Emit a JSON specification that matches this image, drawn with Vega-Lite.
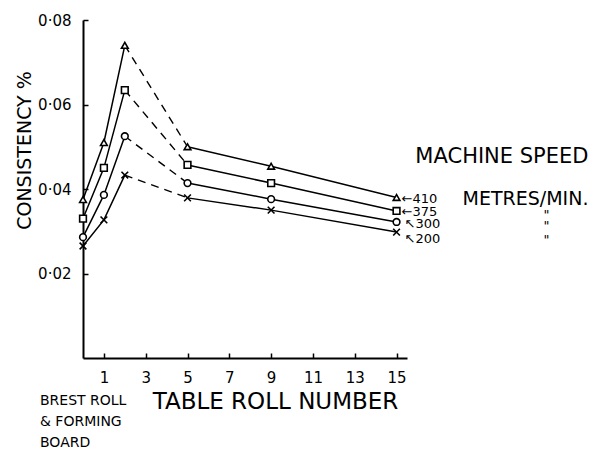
{
  "$schema": "https://vega.github.io/schema/vega-lite/v6.json",
  "width": 324,
  "height": 338,
  "autosize": {"type": "none"},
  "padding": {"left": 83, "top": 20, "right": 209, "bottom": 92},
  "background": "white",
  "config": {
    "view": {"stroke": null},
    "font": "DejaVu Sans",
    "text": {"font": "DejaVu Sans", "color": "black"}
  },
  "data": {
    "values": [
      {"roll": 0, "speed": "410", "consistency": 0.0375},
      {"roll": 1, "speed": "410", "consistency": 0.051},
      {"roll": 2, "speed": "410", "consistency": 0.074},
      {"roll": 5, "speed": "410", "consistency": 0.050},
      {"roll": 9, "speed": "410", "consistency": 0.0454},
      {"roll": 15, "speed": "410", "consistency": 0.038},
      {"roll": 0, "speed": "375", "consistency": 0.033},
      {"roll": 1, "speed": "375", "consistency": 0.045},
      {"roll": 2, "speed": "375", "consistency": 0.0634},
      {"roll": 5, "speed": "375", "consistency": 0.0457},
      {"roll": 9, "speed": "375", "consistency": 0.0414},
      {"roll": 15, "speed": "375", "consistency": 0.0348},
      {"roll": 0, "speed": "300", "consistency": 0.0286},
      {"roll": 1, "speed": "300", "consistency": 0.0386},
      {"roll": 2, "speed": "300", "consistency": 0.0525},
      {"roll": 5, "speed": "300", "consistency": 0.0414},
      {"roll": 9, "speed": "300", "consistency": 0.0376},
      {"roll": 15, "speed": "300", "consistency": 0.0322},
      {"roll": 0, "speed": "200", "consistency": 0.0265},
      {"roll": 1, "speed": "200", "consistency": 0.0327},
      {"roll": 2, "speed": "200", "consistency": 0.0433},
      {"roll": 5, "speed": "200", "consistency": 0.0379},
      {"roll": 9, "speed": "200", "consistency": 0.035},
      {"roll": 15, "speed": "200", "consistency": 0.0298}
    ]
  },
  "encoding": {
    "x": {
      "field": "roll",
      "type": "quantitative",
      "scale": {"domain": [0, 15.5], "nice": false, "zero": false},
      "axis": {
        "values": [1, 3, 5, 7, 9, 11, 13, 15],
        "grid": false,
        "domainColor": "black",
        "domainWidth": 2,
        "tickColor": "black",
        "tickSize": -5,
        "tickWidth": 1.5,
        "labelPadding": 17,
        "labelFontSize": 15,
        "labelColor": "black",
        "labelFont": "DejaVu Sans",
        "title": "TABLE ROLL NUMBER",
        "titleFont": "DejaVu Sans",
        "titleFontSize": 23,
        "titleFontWeight": "normal",
        "titleColor": "black",
        "titleX": 192,
        "titleY": 43,
        "titleAlign": "center",
        "titleBaseline": "middle"
      }
    },
    "y": {
      "field": "consistency",
      "type": "quantitative",
      "scale": {"domain": [0, 0.08], "nice": false},
      "axis": {
        "values": [0.02, 0.04, 0.06, 0.08],
        "labelExpr": "replace(format(datum.value, '.2f'), '.', '·')",
        "grid": false,
        "domainColor": "black",
        "domainWidth": 2,
        "tickColor": "black",
        "tickSize": -5,
        "tickWidth": 1.5,
        "labelPadding": 17,
        "labelFontSize": 15,
        "labelColor": "black",
        "labelFont": "DejaVu Sans",
        "title": "CONSISTENCY %",
        "titleFont": "DejaVu Sans",
        "titleFontSize": 19,
        "titleFontWeight": "normal",
        "titleColor": "black",
        "titleX": -59,
        "titleY": 130,
        "titleAlign": "center",
        "titleBaseline": "middle"
      }
    }
  },
  "layer": [
    {
      "transform": [{"filter": "datum.roll <= 2"}],
      "mark": {"type": "line", "color": "black", "strokeWidth": 1.5},
      "encoding": {"detail": {"field": "speed"}}
    },
    {
      "transform": [{"filter": "datum.roll >= 2 && datum.roll <= 5"}],
      "mark": {"type": "line", "color": "black", "strokeWidth": 1.4, "strokeDash": [8, 6]},
      "encoding": {"detail": {"field": "speed"}}
    },
    {
      "transform": [{"filter": "datum.roll >= 5"}],
      "mark": {"type": "line", "color": "black", "strokeWidth": 1.5},
      "encoding": {"detail": {"field": "speed"}}
    },
    {
      "mark": {"type": "point", "filled": false, "color": "black", "size": 45, "strokeWidth": 1.6, "opacity": 1, "fill": "white", "fillOpacity": 1},
      "encoding": {
        "shape": {
          "field": "speed",
          "type": "nominal",
          "scale": {"domain": ["410", "375", "300", "200"], "range": ["triangle-up", "square", "circle", "M-1,-1L1,1M-1,1L1,-1"]},
          "legend": null
        }
      }
    },
    {
      "transform": [{"filter": "datum.roll == 15 && datum.speed == '410'"}],
      "mark": {"type": "text", "align": "left", "baseline": "middle", "dx": 5, "dy": 2, "fontSize": 13},
      "encoding": {"text": {"value": "←410"}}
    },
    {
      "transform": [{"filter": "datum.roll == 15 && datum.speed == '375'"}],
      "mark": {"type": "text", "align": "left", "baseline": "middle", "dx": 5, "dy": 1, "fontSize": 13},
      "encoding": {"text": {"value": "←375"}}
    },
    {
      "transform": [{"filter": "datum.roll == 15 && datum.speed == '300'"}],
      "mark": {"type": "text", "align": "left", "baseline": "middle", "dx": 8, "dy": 2, "fontSize": 13},
      "encoding": {"text": {"value": "↖300"}}
    },
    {
      "transform": [{"filter": "datum.roll == 15 && datum.speed == '200'"}],
      "mark": {"type": "text", "align": "left", "baseline": "middle", "dx": 8, "dy": 7, "fontSize": 13},
      "encoding": {"text": {"value": "↖200"}}
    },
    {
      "transform": [{"filter": "datum.roll == 15 && datum.speed == '410'"}],
      "mark": {"type": "text", "align": "left", "baseline": "middle", "dx": 66, "dy": 2, "fontSize": 19},
      "encoding": {"text": {"value": "METRES/MIN."}}
    },
    {
      "transform": [{"filter": "datum.roll == 15 && datum.speed == '375'"}],
      "mark": {"type": "text", "align": "left", "baseline": "top", "dx": 147, "dy": -2, "fontSize": 13},
      "encoding": {"text": {"value": "\""}}
    },
    {
      "transform": [{"filter": "datum.roll == 15 && datum.speed == '300'"}],
      "mark": {"type": "text", "align": "left", "baseline": "top", "dx": 147, "dy": -2, "fontSize": 13},
      "encoding": {"text": {"value": "\""}}
    },
    {
      "transform": [{"filter": "datum.roll == 15 && datum.speed == '200'"}],
      "mark": {"type": "text", "align": "left", "baseline": "top", "dx": 147, "dy": 2, "fontSize": 13},
      "encoding": {"text": {"value": "\""}}
    },
    {
      "transform": [{"filter": "datum.roll == 15 && datum.speed == '410'"}],
      "mark": {"type": "text", "align": "left", "baseline": "middle", "fontSize": 21},
      "encoding": {
        "x": {"datum": 15.9},
        "y": {"datum": 0.0476},
        "text": {"value": "MACHINE SPEED"}
      }
    },
    {
      "transform": [{"filter": "datum.roll == 0 && datum.speed == '410'"}],
      "mark": {"type": "text", "align": "left", "baseline": "middle", "fontSize": 14, "dx": -43, "dy": 43, "lineHeight": 21},
      "encoding": {
        "x": {"datum": 0},
        "y": {"datum": 0},
        "text": {"value": ["BREST ROLL", "& FORMING", "BOARD"]}
      }
    }
  ]
}
